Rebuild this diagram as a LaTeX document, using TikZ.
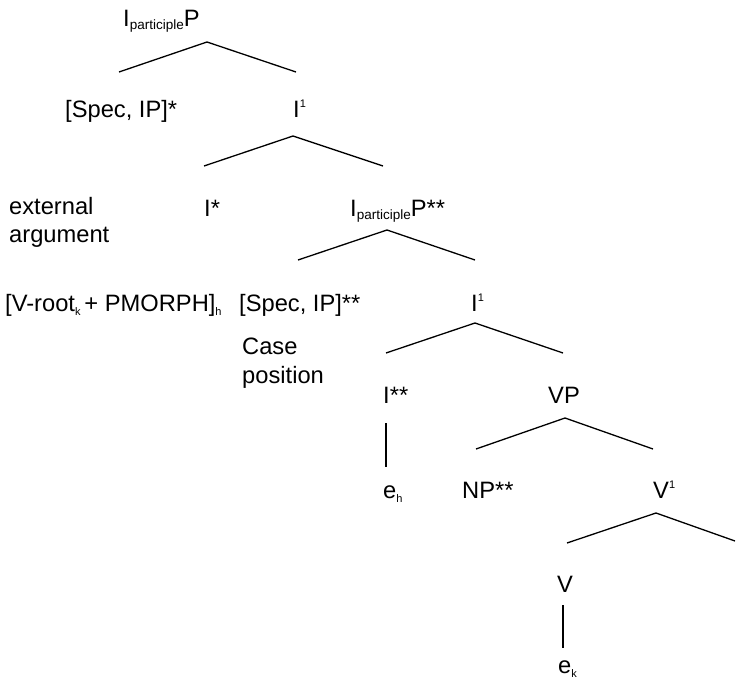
\documentclass[tikz,border=0pt]{standalone}
\usepackage{fontspec}
\setmainfont{Liberation Sans}
\newcommand\lbpart{\raisebox{-2.5pt}{\fontsize{13.5}{14}\selectfont participle}}
\newcommand\lbsub[1]{\raisebox{-4pt}{\fontsize{11}{12}\selectfont #1}}
\newcommand\lbsup[1]{\raisebox{10pt}{\fontsize{11}{12}\selectfont #1}}
\begin{document}
\begin{tikzpicture}[x=1pt,y=-1pt,
  lab/.style={anchor=base west, inner sep=0pt, font=\fontsize{23.7}{28}\selectfont},
  br/.style={line width=1.3pt}]
\useasboundingbox (0,0) rectangle (736,684);
% labels
\node[lab] (ipp) at (123,27) {I\lbpart P};
\node[lab] (spec1) at (65,118) {[Spec, IP]*};
\node[lab] (ibar1) at (293,118) {I\lbsup{1}};
\node[lab] (ext1) at (9,215) {external};
\node[lab] (ext2) at (9,243) {argument};
\node[lab] (istar) at (204,217) {I*};
\node[lab] (ipp2) at (350,217) {I\lbpart P**};
\node[lab] (vroot) at (5,312) {[V-root\lbsub{k}\,+ PMORPH]\lbsub{h}};
\node[lab] (spec2) at (239,312) {[Spec, IP]**};
\node[lab] (ibar2) at (471,312) {I\lbsup{1}};
\node[lab] (case1) at (242,355) {Case};
\node[lab] (case2) at (242,383) {position};
\node[lab] (istst) at (383,403) {I**};
\node[lab] (vp) at (548,403) {VP};
\node[lab] (eh) at (383,498) {e\lbsub{h}};
\node[lab] (np) at (462,498) {NP**};
\node[lab] (vbar) at (653,498) {V\lbsup{1}};
\node[lab] (v) at (557,592) {V};
\node[lab] (ek) at (558,673) {e\lbsub{k}};
% branch points
\coordinate (a1) at (207,42);  \coordinate (l1) at (119,72);  \coordinate (r1) at (296,72);
\coordinate (a2) at (293,136); \coordinate (l2) at (204,166); \coordinate (r2) at (383,166);
\coordinate (a3) at (387,230); \coordinate (l3) at (298,260); \coordinate (r3) at (475,260);
\coordinate (a4) at (475,323); \coordinate (l4) at (386,353); \coordinate (r4) at (563,353);
\coordinate (t5) at (386,423); \coordinate (b5) at (386,467);
\coordinate (a6) at (565,418); \coordinate (l6) at (476,449); \coordinate (r6) at (653,449);
\coordinate (a7) at (656,513); \coordinate (l7) at (567,543); \coordinate (r7) at (735,541);
\coordinate (t8) at (563,605); \coordinate (b8) at (563,648);
\draw[br] (l1) -- (a1) -- (r1);
\draw[br] (l2) -- (a2) -- (r2);
\draw[br] (l3) -- (a3) -- (r3);
\draw[br] (l4) -- (a4) -- (r4);
\draw[br] (t5) -- (b5);
\draw[br] (l6) -- (a6) -- (r6);
\draw[br] (l7) -- (a7) -- (r7);
\draw[br] (t8) -- (b8);
\end{tikzpicture}
\end{document}
